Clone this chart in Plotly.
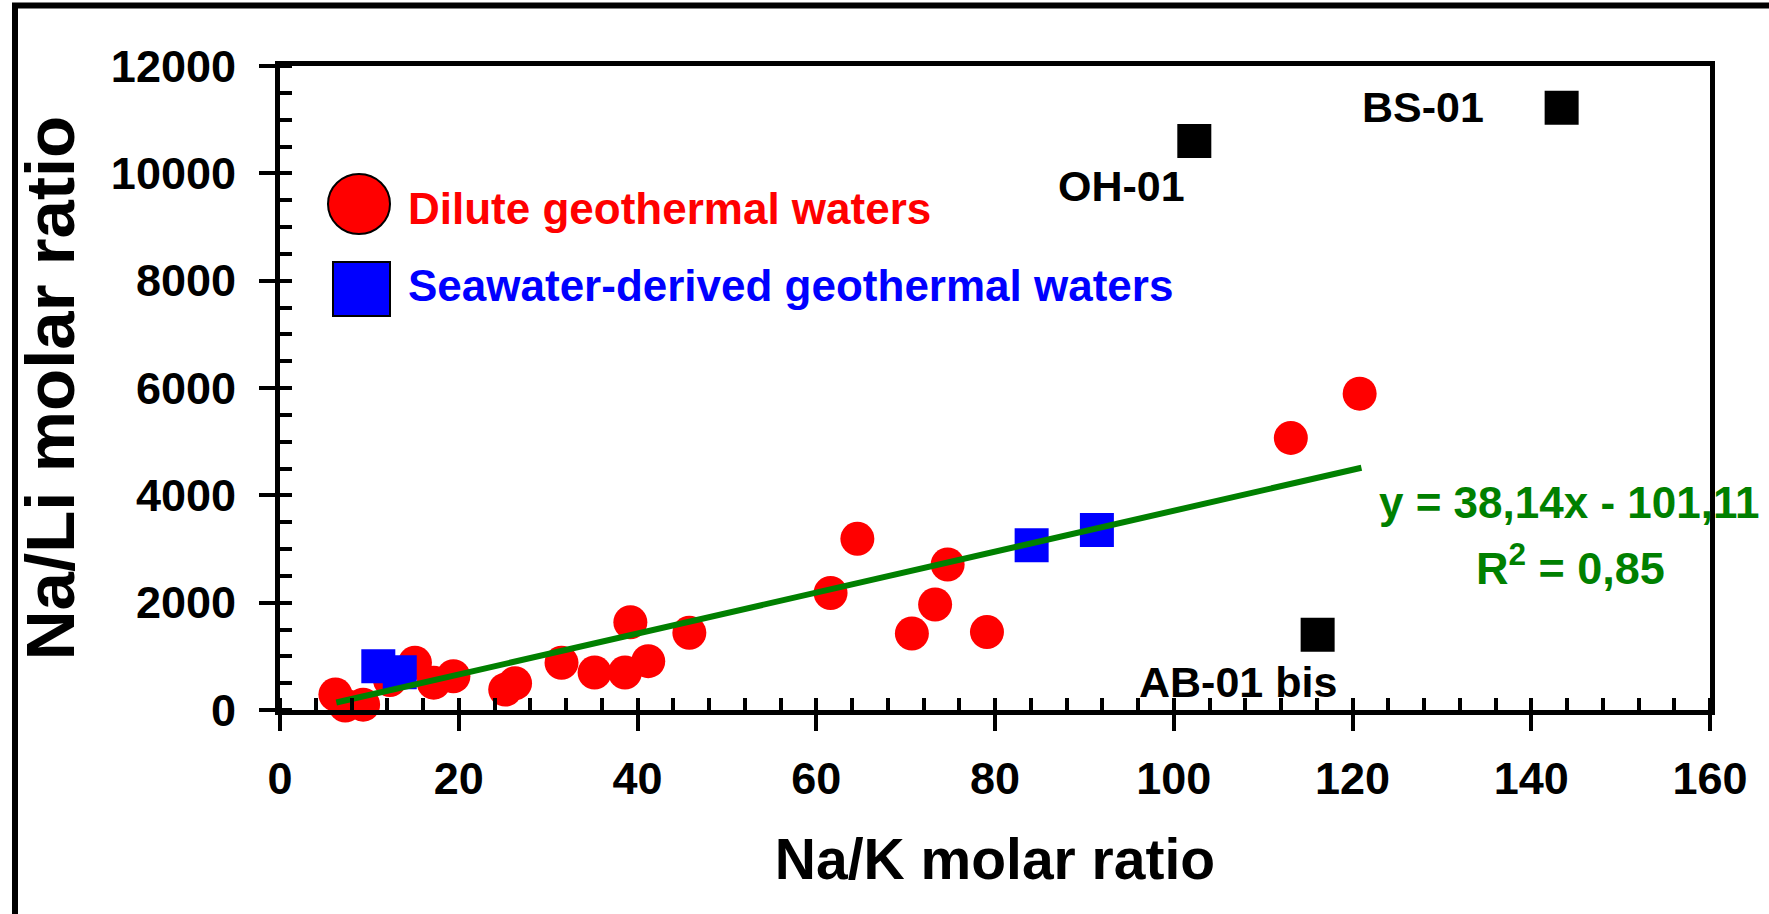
import plotly.graph_objects as go

# ---- data ----
dilute_x = [6.2, 7.3, 9.3, 12.3, 15.1, 17.2, 19.4, 25.2, 26.3, 31.5, 35.2, 38.6, 39.2,
            41.2, 45.8, 61.6, 64.6, 70.7, 73.3, 74.7, 79.1, 113.1, 120.8]
dilute_y = [290, 85, 100, 560, 880, 510, 630, 380, 500, 880, 700, 700, 1635,
            910, 1440, 2180, 3190, 1425, 1965, 2710, 1455, 5070, 5895]

sea_x = [11.0, 13.4, 84.1, 91.4]
sea_y = [815, 704, 3069, 3355]

outlier_x = [102.3, 143.4, 116.1]
outlier_y = [10603, 11223, 1400]
outlier_names = ["OH-01", "BS-01", "AB-01 bis"]
outlier_label_x = [94.1, 127.9, 107.2]
outlier_label_y = [9765, 11236, 530]

trend_x = [6.3, 121.0]
trend_y = [140, 4514]
trend_eq = "y = 38,14x - 101,11"
trend_r2 = "R<sup>2</sup> = 0,85"

legend_names = ["Dilute geothermal waters", "Seawater-derived geothermal waters"]

x_title = "Na/K molar ratio"
y_title = "Na/Li molar ratio"

# ---- figure geometry ----
W, H = 1769, 914
ML, MR, MT, MB = 280, 59, 66, 204
PW, PH = W - ML - MR, H - MT - MB

def px(xp):
    return (xp - ML) / PW

def py(yp):
    return (H - MB - yp) / PH

FONT = "Liberation Sans, Arial, sans-serif"
RED, BLUE, GREEN = "#FF0000", "#0000FF", "#008000"

fig = go.Figure()
fig.add_trace(go.Scatter(x=dilute_x, y=dilute_y, mode="markers", cliponaxis=False,
                         marker=dict(symbol="circle", size=34, color=RED),
                         name=legend_names[0], showlegend=False))
fig.add_trace(go.Scatter(x=sea_x, y=sea_y, mode="markers", cliponaxis=False,
                         marker=dict(symbol="square", size=34, color=BLUE),
                         name=legend_names[1], showlegend=False))
fig.add_trace(go.Scatter(x=outlier_x, y=outlier_y, mode="markers", cliponaxis=False,
                         marker=dict(symbol="square", size=34, color="black"),
                         text=outlier_names, showlegend=False))
fig.add_trace(go.Scatter(x=trend_x, y=trend_y, mode="lines", cliponaxis=False,
                         line=dict(color=GREEN, width=6), showlegend=False))
# helper overlay trace so the crossing-tick axes exist
fig.add_trace(go.Scatter(x=[None], y=[None], xaxis="x2", yaxis="y2",
                         mode="markers", showlegend=False, hoverinfo="skip"))

tickfont = dict(family=FONT, size=45, color="black", weight="bold")

fig.update_layout(
    width=W, height=H,
    margin=dict(l=ML, r=MR, t=MT, b=MB, autoexpand=False),
    paper_bgcolor="white", plot_bgcolor="white",
    xaxis=dict(range=[0, 160], dtick=20, tick0=0, ticks="outside", ticklen=16,
               tickwidth=4, tickcolor="black", showline=True, linewidth=5,
               linecolor="black", mirror=True, showgrid=False, zeroline=False,
               tickfont=tickfont, ticklabelstandoff=9,
               minor=dict(ticks="inside", ticklen=12, dtick=4, tickwidth=4,
                          tickcolor="black", showgrid=False),
               title=dict(text=x_title, standoff=38,
                          font=dict(family=FONT, size=57, color="black", weight="bold"))),
    yaxis=dict(range=[0, 12000], dtick=2000, tick0=0, ticks="outside", ticklen=16,
               tickwidth=4, tickcolor="black", showline=True, linewidth=5,
               linecolor="black", mirror=True, showgrid=False, zeroline=False,
               tickfont=tickfont, tickformat="d", exponentformat="none",
               ticklabelstandoff=14,
               minor=dict(ticks="inside", ticklen=12, dtick=500, tickwidth=4,
                          tickcolor="black", showgrid=False),
               title=dict(text=y_title, standoff=15,
                          font=dict(family=FONT, size=69, color="black", weight="bold"))),
    xaxis2=dict(range=[0, 160], dtick=20, tick0=0, overlaying="x", anchor="y2",
                side="bottom", ticks="inside", ticklen=11, tickwidth=4,
                tickcolor="black", showticklabels=False, showline=False,
                showgrid=False, zeroline=False),
    yaxis2=dict(range=[0, 12000], dtick=2000, tick0=0, overlaying="y", anchor="x2",
                side="left", ticks="inside", ticklen=11, tickwidth=4,
                tickcolor="black", showticklabels=False, showline=False,
                showgrid=False, zeroline=False),
    showlegend=False,
)

ann_font = dict(family=FONT, size=43, color="black", weight="bold")
for name, lx, ly in zip(outlier_names, outlier_label_x, outlier_label_y):
    fig.add_annotation(x=lx, y=ly, text=name, showarrow=False, xanchor="center",
                       yanchor="middle", font=ann_font)

fig.add_annotation(x=122.7, y=3863, text=trend_eq, showarrow=False, xanchor="left",
                   yanchor="middle", font=dict(family=FONT, size=44, color=GREEN, weight="bold"))
fig.add_annotation(x=144.4, y=2709, text=trend_r2, showarrow=False, xanchor="center",
                   yanchor="middle", font=dict(family=FONT, size=45, color=GREEN, weight="bold"))

# custom legend (inside plot, upper left)
fig.add_shape(type="circle", xref="paper", yref="paper",
              x0=px(328), x1=px(390), y0=py(234), y1=py(174),
              fillcolor=RED, line=dict(color="black", width=2))
fig.add_shape(type="rect", xref="paper", yref="paper",
              x0=px(333), x1=px(390), y0=py(316), y1=py(262),
              fillcolor=BLUE, line=dict(color="black", width=2))
fig.add_annotation(xref="paper", yref="paper", x=px(406), y=py(208), text=legend_names[0],
                   showarrow=False, xanchor="left", yanchor="middle",
                   font=dict(family=FONT, size=44, color=RED, weight="bold"))
fig.add_annotation(xref="paper", yref="paper", x=px(406), y=py(285), text=legend_names[1],
                   showarrow=False, xanchor="left", yanchor="middle",
                   font=dict(family=FONT, size=44, color=BLUE, weight="bold"))

# outer frame (left and top edges visible in the reference)
fig.add_shape(type="line", xref="paper", yref="paper", x0=px(15), x1=px(15),
              y0=py(3), y1=py(H + 5), line=dict(color="black", width=6))
fig.add_shape(type="line", xref="paper", yref="paper", x0=px(12), x1=px(W + 5),
              y0=py(5.5), y1=py(5.5), line=dict(color="black", width=6))

fig.write_html("out.html")
